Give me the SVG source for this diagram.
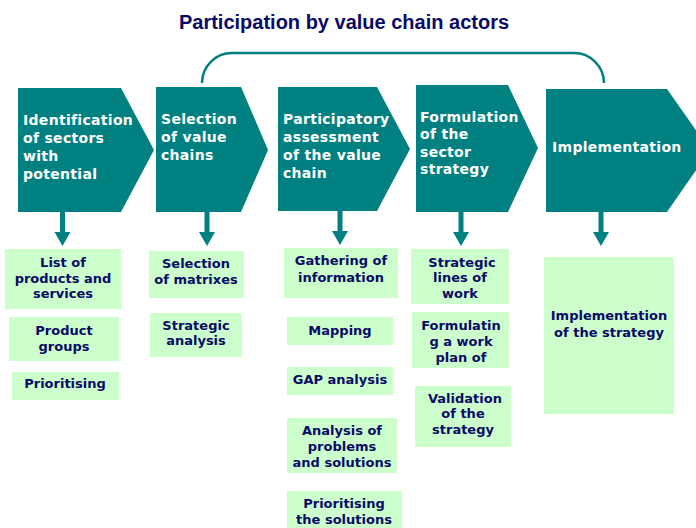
<svg xmlns="http://www.w3.org/2000/svg" width="696" height="528" viewBox="0 0 696 528">
<defs>
<style>
.title{font-family:"Liberation Sans",Arial,sans-serif;font-weight:bold;font-size:20px;fill:#0a0a66}
.chev{fill:#008080}
.ct{font-family:"DejaVu Sans",Verdana,sans-serif;font-weight:bold;font-size:14px;letter-spacing:0.3px;fill:#ffffff}
.box{fill:#ccffcc}
.bt{font-family:"DejaVu Sans",Verdana,sans-serif;font-weight:bold;font-size:13px;fill:#0a0a66;text-anchor:middle}
.conn{fill:none;stroke:#008080;stroke-width:2.5}
.arr{fill:#008080}
</style>
<path id="down" d="M-2.5,0 H2.5 V20 H8 L0,34 L-8,20 H-2.5 Z"/>
</defs>
<rect width="696" height="528" fill="#ffffff"/>
<text class="title" x="344" y="29" text-anchor="middle">Participation by value chain actors</text>

<g id="connectors">
<path class="conn" d="M202,82 V83 A30,30 0 0 1 232,53 H574 A30,30 0 0 1 604,83 V82"/>
<use href="#down" class="arr" x="62.5" y="212"/>
<use href="#down" class="arr" x="207" y="212"/>
<use href="#down" class="arr" x="340" y="211"/>
<use href="#down" class="arr" x="461" y="212"/>
<use href="#down" class="arr" x="601" y="212"/>
</g>

<g id="step1">
<polygon class="chev" points="18,88 121,88 154,150 121,212 18,212"/>
<text class="ct" x="23" y="125">Identification</text>
<text class="ct" x="23" y="143">of sectors</text>
<text class="ct" x="23" y="161">with</text>
<text class="ct" x="23" y="179">potential</text>
</g>
<g id="step2">
<polygon class="chev" points="156,87 241,87 268,150 241,212 156,212"/>
<text class="ct" x="161" y="124">Selection</text>
<text class="ct" x="161" y="142">of value</text>
<text class="ct" x="161" y="160">chains</text>
</g>
<g id="step3">
<polygon class="chev" points="278,87 377,87 410,149 377,211 278,211"/>
<text class="ct" x="283" y="124">Participatory</text>
<text class="ct" x="283" y="142">assessment</text>
<text class="ct" x="283" y="160">of the value</text>
<text class="ct" x="283" y="178">chain</text>
</g>
<g id="step4">
<polygon class="chev" points="416,85 508,85 538,148 508,212 416,212"/>
<text class="ct" x="420" y="122">Formulation</text>
<text class="ct" x="420" y="139">of the</text>
<text class="ct" x="420" y="157">sector</text>
<text class="ct" x="420" y="174">strategy</text>
</g>
<g id="step5">
<polygon class="chev" points="546,89 667,89 710,150 667,212 546,212"/>
<text class="ct" x="552" y="152">Implementation</text>
</g>

<g id="list-products">
<rect class="box" x="5" y="249" width="116" height="60"/>
<text class="bt" x="63" y="267">List of</text>
<text class="bt" x="63" y="283">products and</text>
<text class="bt" x="63" y="298">services</text>
</g>
<g id="product-groups">
<rect class="box" x="9" y="317" width="110" height="44"/>
<text class="bt" x="64" y="335">Product</text>
<text class="bt" x="64" y="351">groups</text>
</g>
<g id="prioritising">
<rect class="box" x="12" y="372" width="107" height="28"/>
<text class="bt" x="65" y="388">Prioritising</text>
</g>
<g id="selection-matrixes">
<rect class="box" x="149" y="251" width="95" height="47"/>
<text class="bt" x="196" y="268">Selection</text>
<text class="bt" x="196" y="284">of matrixes</text>
</g>
<g id="strategic-analysis">
<rect class="box" x="150" y="313" width="92" height="44"/>
<text class="bt" x="196" y="330">Strategic</text>
<text class="bt" x="196" y="345">analysis</text>
</g>
<g id="gathering">
<rect class="box" x="284" y="248" width="114" height="50"/>
<text class="bt" x="341" y="265">Gathering of</text>
<text class="bt" x="341" y="282">information</text>
</g>
<g id="mapping">
<rect class="box" x="287" y="317" width="106" height="28"/>
<text class="bt" x="340" y="335">Mapping</text>
</g>
<g id="gap-analysis">
<rect class="box" x="287" y="367" width="106" height="28"/>
<text class="bt" x="340" y="384">GAP analysis</text>
</g>
<g id="analysis-problems">
<rect class="box" x="287" y="418" width="110" height="55"/>
<text class="bt" x="342" y="435">Analysis of</text>
<text class="bt" x="342" y="451">problems</text>
<text class="bt" x="342" y="467">and solutions</text>
</g>
<g id="prioritising-solutions">
<rect class="box" x="287" y="491" width="115" height="40"/>
<text class="bt" x="344" y="508">Prioritising</text>
<text class="bt" x="344" y="524">the solutions</text>
</g>
<g id="strategic-lines">
<rect class="box" x="411" y="249" width="98" height="55"/>
<text class="bt" x="462" y="267">Strategic</text>
<text class="bt" x="460" y="282">lines of</text>
<text class="bt" x="460" y="298">work</text>
</g>
<g id="work-plan">
<rect class="box" x="412" y="312" width="97" height="56"/>
<text class="bt" x="461" y="330">Formulatin</text>
<text class="bt" x="461" y="346">g a work</text>
<text class="bt" x="461" y="362">plan of</text>
</g>
<g id="validation">
<rect class="box" x="415" y="386" width="96" height="61"/>
<text class="bt" x="465" y="403">Validation</text>
<text class="bt" x="463" y="418">of the</text>
<text class="bt" x="463" y="434">strategy</text>
</g>
<g id="implementation-strategy">
<rect class="box" x="544" y="257" width="130" height="157"/>
<text class="bt" x="609" y="320">Implementation</text>
<text class="bt" x="609" y="337">of the strategy</text>
</g>
</svg>
